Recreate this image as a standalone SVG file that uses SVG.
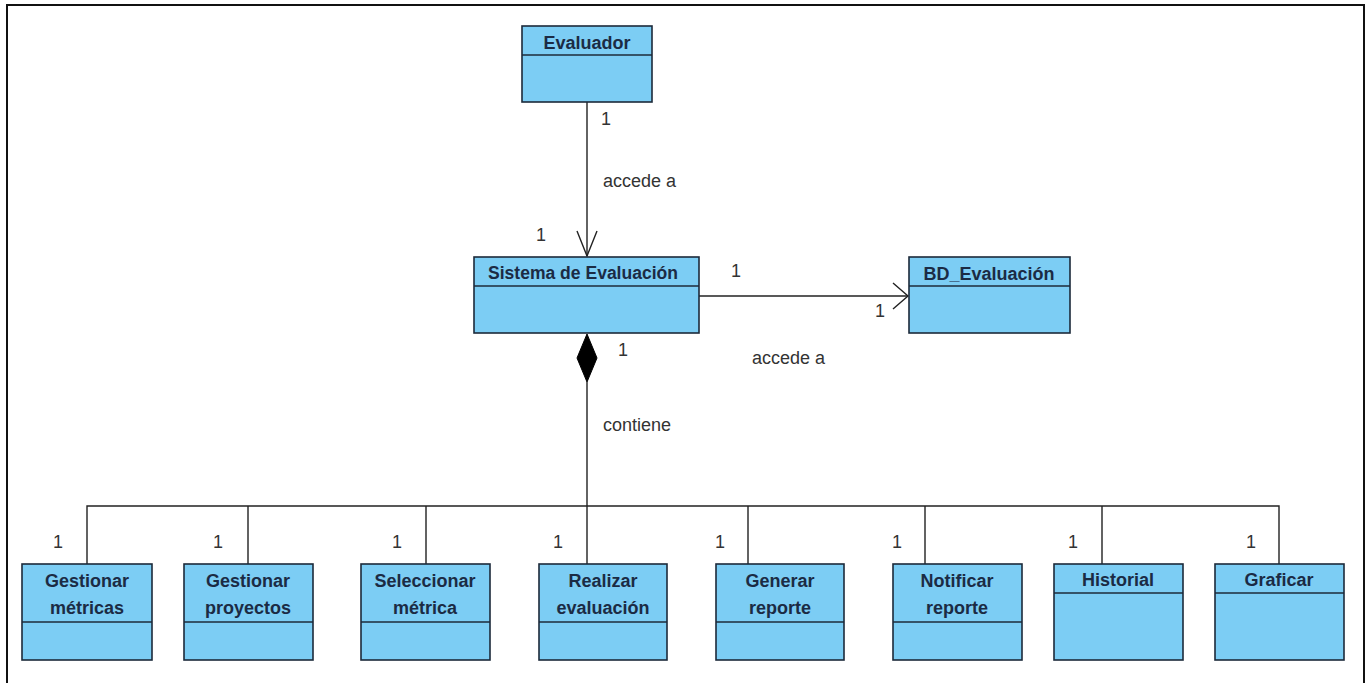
<svg xmlns="http://www.w3.org/2000/svg" width="1369" height="683" viewBox="0 0 1369 683">
<style>
.box{fill:#7ccdf4;stroke:#1c2a3a;stroke-width:1.6}
.div{stroke:#1c2a3a;stroke-width:1.6}
.t{font-family:"Liberation Sans",Arial,sans-serif;font-weight:bold;font-size:18px;fill:#1b2b44;text-anchor:middle}
.l{font-family:"Liberation Sans",Arial,sans-serif;font-size:18px;fill:#333}
.c{fill:none;stroke:#222;stroke-width:1.4}
</style>
<rect x="0" y="0" width="1369" height="683" fill="#fff"/>
<path d="M7,683 V5 H1364 V683" fill="none" stroke="#111" stroke-width="2"/>
<g id="connectors">
<path class="c" d="M587,102 V256"/>
<path class="c" d="M577,231 L587,256 L597,231"/>
<path class="c" d="M699,296 H908"/>
<path class="c" d="M893,283 L908,296 L893,309"/>
<path d="M587,334 L597,358 L587,382 L577,358 Z" fill="#000" stroke="#000" stroke-width="1"/>
<path class="c" d="M587,382 V506"/>
<path class="c" d="M87,564 V506 H1279 V564"/>
<path class="c" d="M248,506 V564 M426,506 V564 M587,506 V564 M748,506 V564 M925,506 V564 M1102,506 V564"/>
<text class="l" x="601" y="125">1</text>
<text class="l" x="603" y="187">accede a</text>
<text class="l" x="536" y="241">1</text>
<text class="l" x="731" y="277">1</text>
<text class="l" x="875" y="317">1</text>
<text class="l" x="752" y="364">accede a</text>
<text class="l" x="618" y="356">1</text>
<text class="l" x="603" y="431">contiene</text>
<text class="l" x="53" y="548">1</text>
<text class="l" x="213" y="548">1</text>
<text class="l" x="392" y="548">1</text>
<text class="l" x="553" y="548">1</text>
<text class="l" x="715" y="548">1</text>
<text class="l" x="892" y="548">1</text>
<text class="l" x="1068" y="548">1</text>
<text class="l" x="1246" y="548">1</text>
</g>
<g id="evaluador">
<rect class="box" x="522" y="26" width="130" height="76"/>
<line class="div" x1="522" y1="55" x2="652" y2="55"/>
<text class="t" x="587" y="49">Evaluador</text>
</g>
<g id="sistema">
<rect class="box" x="474" y="257" width="225" height="76"/>
<line class="div" x1="474" y1="286" x2="699" y2="286"/>
<text class="t" x="583" y="279" textLength="190" lengthAdjust="spacingAndGlyphs">Sistema de Evaluación</text>
</g>
<g id="bd">
<rect class="box" x="909" y="257" width="161" height="76"/>
<line class="div" x1="909" y1="286" x2="1070" y2="286"/>
<text class="t" x="989" y="280">BD_Evaluación</text>
</g>
<g id="gestionar-metricas">
<rect class="box" x="22" y="564" width="130" height="96"/>
<line class="div" x1="22" y1="622" x2="152" y2="622"/>
<text class="t" x="87" y="587">Gestionar</text>
<text class="t" x="87" y="614">métricas</text>
</g>
<g id="gestionar-proyectos">
<rect class="box" x="184" y="564" width="129" height="96"/>
<line class="div" x1="184" y1="622" x2="313" y2="622"/>
<text class="t" x="248" y="587">Gestionar</text>
<text class="t" x="248" y="614">proyectos</text>
</g>
<g id="seleccionar-metrica">
<rect class="box" x="361" y="564" width="129" height="96"/>
<line class="div" x1="361" y1="622" x2="490" y2="622"/>
<text class="t" x="425" y="587">Seleccionar</text>
<text class="t" x="425" y="614">métrica</text>
</g>
<g id="realizar-evaluacion">
<rect class="box" x="539" y="564" width="128" height="96"/>
<line class="div" x1="539" y1="622" x2="667" y2="622"/>
<text class="t" x="603" y="587">Realizar</text>
<text class="t" x="603" y="614">evaluación</text>
</g>
<g id="generar-reporte">
<rect class="box" x="716" y="564" width="128" height="96"/>
<line class="div" x1="716" y1="622" x2="844" y2="622"/>
<text class="t" x="780" y="587">Generar</text>
<text class="t" x="780" y="614">reporte</text>
</g>
<g id="notificar-reporte">
<rect class="box" x="893" y="564" width="129" height="96"/>
<line class="div" x1="893" y1="622" x2="1022" y2="622"/>
<text class="t" x="957" y="587">Notificar</text>
<text class="t" x="957" y="614">reporte</text>
</g>
<g id="historial">
<rect class="box" x="1054" y="564" width="129" height="96"/>
<line class="div" x1="1054" y1="593" x2="1183" y2="593"/>
<text class="t" x="1118" y="586">Historial</text>
</g>
<g id="graficar">
<rect class="box" x="1215" y="564" width="129" height="96"/>
<line class="div" x1="1215" y1="593" x2="1344" y2="593"/>
<text class="t" x="1279" y="586">Graficar</text>
</g>
</svg>
